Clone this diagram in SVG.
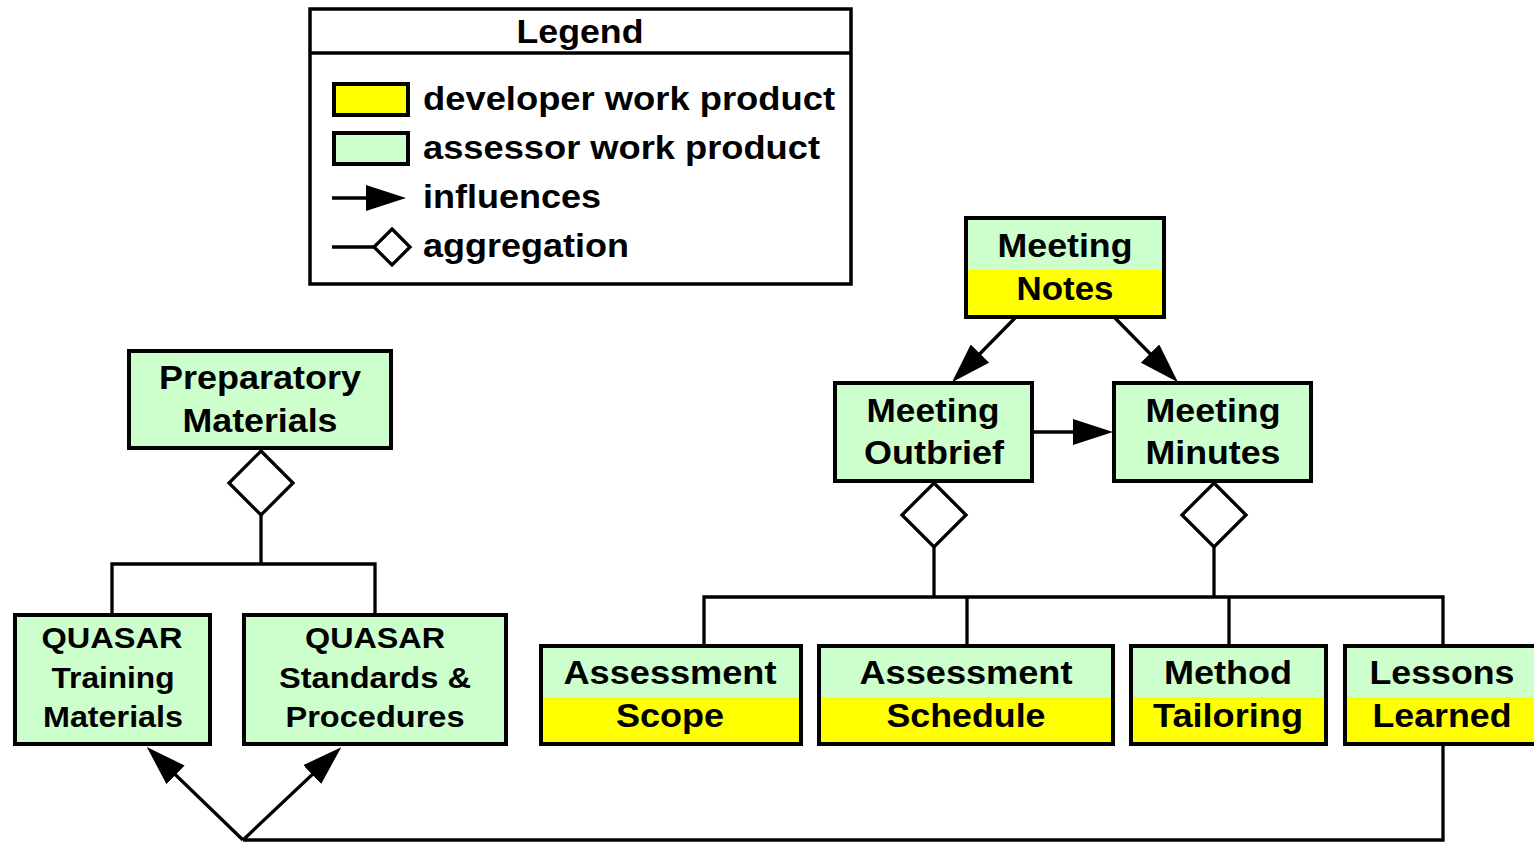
<svg xmlns="http://www.w3.org/2000/svg" width="1534" height="843" viewBox="0 0 1534 843">
<style>
.t{font-family:"Liberation Sans",Arial,Helvetica,sans-serif;font-weight:bold;fill:#000}
.m{font-size:34px;text-anchor:middle}
.q{font-size:30px;text-anchor:middle}
.l{font-size:33px}
.box{stroke:#000;stroke-width:4}
.frame{fill:none;stroke:#000;stroke-width:4}
.g{fill:#CCFFCC}
.y{fill:#FFFF00}
.ln{fill:none;stroke:#000;stroke-width:3.3}
.dia{fill:#fff;stroke:#000;stroke-width:3.3}
</style>
<defs>
<marker id="arr" viewBox="0 0 40 26" refX="30" refY="13" markerWidth="40" markerHeight="26" markerUnits="userSpaceOnUse" orient="auto">
<path d="M0,0 L40,13 L0,26 z" fill="#000"/>
</marker>
<path id="bigdia" d="M0,-32 L32,0 L0,32 L-32,0 z"/>
</defs>

<g id="legend">
<rect x="310" y="9" width="541" height="275" fill="#fff" stroke="#000" stroke-width="3.5"/>
<line x1="310" y1="53" x2="851" y2="53" stroke="#000" stroke-width="3.5"/>
<text class="t m" x="580" y="43" textLength="127" lengthAdjust="spacingAndGlyphs">Legend</text>
<rect class="box y" x="334" y="84" width="74" height="31"/>
<rect class="box g" x="334" y="133" width="74" height="31"/>
<line class="ln" x1="332" y1="198" x2="396" y2="198" marker-end="url(#arr)"/>
<line class="ln" x1="332" y1="247" x2="374" y2="247"/>
<path class="dia" d="M392,229 L410,247 L392,265 L374,247 z"/>
<text class="t l" x="423" y="110" textLength="412" lengthAdjust="spacingAndGlyphs">developer work product</text>
<text class="t l" x="423" y="159" textLength="397" lengthAdjust="spacingAndGlyphs">assessor work product</text>
<text class="t l" x="423" y="208" textLength="178" lengthAdjust="spacingAndGlyphs">influences</text>
<text class="t l" x="423" y="257" textLength="206" lengthAdjust="spacingAndGlyphs">aggregation</text>
</g>

<g id="connectors">
<line class="ln" x1="1015" y1="318" x2="959" y2="375" marker-end="url(#arr)"/>
<line class="ln" x1="1115" y1="318" x2="1171" y2="375" marker-end="url(#arr)"/>
<line class="ln" x1="1032" y1="432" x2="1103" y2="432" marker-end="url(#arr)"/>
<polyline class="ln" points="934,547 934,597"/>
<polyline class="ln" points="1214,547 1214,597"/>
<polyline class="ln" points="704,646 704,597 1443,597 1443,646"/>
<line class="ln" x1="967" y1="597" x2="967" y2="646"/>
<line class="ln" x1="1229" y1="597" x2="1229" y2="646"/>
<polyline class="ln" points="261,515 261,564"/>
<polyline class="ln" points="112,614 112,564 375,564 375,614"/>
<polyline class="ln" points="1443,745 1443,840 243,840"/>
<line class="ln" x1="243" y1="840" x2="154" y2="754" marker-end="url(#arr)"/>
<line class="ln" x1="243" y1="840" x2="334" y2="754" marker-end="url(#arr)"/>
<use href="#bigdia" class="dia" x="934" y="515"/>
<use href="#bigdia" class="dia" x="1214" y="515"/>
<use href="#bigdia" class="dia" x="261" y="483"/>
</g>

<g id="meeting-notes">
<rect class="g" x="966" y="218" width="198" height="52"/>
<rect class="y" x="966" y="270" width="198" height="47"/>
<rect class="frame" x="966" y="218" width="198" height="99"/>
<text class="t m" x="1065" y="257" textLength="135" lengthAdjust="spacingAndGlyphs">Meeting</text>
<text class="t m" x="1065" y="300" textLength="97" lengthAdjust="spacingAndGlyphs">Notes</text>
</g>

<g id="meeting-outbrief">
<rect class="box g" x="835" y="383" width="197" height="98"/>
<text class="t m" x="933" y="422" textLength="133" lengthAdjust="spacingAndGlyphs">Meeting</text>
<text class="t m" x="934" y="464" textLength="140" lengthAdjust="spacingAndGlyphs">Outbrief</text>
</g>

<g id="meeting-minutes">
<rect class="box g" x="1114" y="383" width="197" height="98"/>
<text class="t m" x="1213" y="422" textLength="135" lengthAdjust="spacingAndGlyphs">Meeting</text>
<text class="t m" x="1213" y="464" textLength="135" lengthAdjust="spacingAndGlyphs">Minutes</text>
</g>

<g id="preparatory-materials">
<rect class="box g" x="129" y="351" width="262" height="97"/>
<text class="t m" x="260" y="389" textLength="202" lengthAdjust="spacingAndGlyphs">Preparatory</text>
<text class="t m" x="260" y="432" textLength="155" lengthAdjust="spacingAndGlyphs">Materials</text>
</g>

<g id="quasar-training">
<rect class="box g" x="15" y="615" width="195" height="129"/>
<text class="t q" x="112" y="648" textLength="141" lengthAdjust="spacingAndGlyphs">QUASAR</text>
<text class="t q" x="113" y="688" textLength="123" lengthAdjust="spacingAndGlyphs">Training</text>
<text class="t q" x="113" y="727" textLength="140" lengthAdjust="spacingAndGlyphs">Materials</text>
</g>

<g id="quasar-standards">
<rect class="box g" x="244" y="615" width="262" height="129"/>
<text class="t q" x="375" y="648" textLength="140" lengthAdjust="spacingAndGlyphs">QUASAR</text>
<text class="t q" x="375" y="688" textLength="192" lengthAdjust="spacingAndGlyphs">Standards &amp;</text>
<text class="t q" x="375" y="727" textLength="179" lengthAdjust="spacingAndGlyphs">Procedures</text>
</g>

<g id="assessment-scope">
<rect class="g" x="541" y="646" width="260" height="51"/>
<rect class="y" x="541" y="697" width="260" height="47"/>
<rect class="frame" x="541" y="646" width="260" height="98"/>
<text class="t m" x="670" y="684" textLength="213" lengthAdjust="spacingAndGlyphs">Assessment</text>
<text class="t m" x="670" y="727" textLength="108" lengthAdjust="spacingAndGlyphs">Scope</text>
</g>

<g id="assessment-schedule">
<rect class="g" x="819" y="646" width="294" height="51"/>
<rect class="y" x="819" y="697" width="294" height="47"/>
<rect class="frame" x="819" y="646" width="294" height="98"/>
<text class="t m" x="966" y="684" textLength="213" lengthAdjust="spacingAndGlyphs">Assessment</text>
<text class="t m" x="966" y="727" textLength="159" lengthAdjust="spacingAndGlyphs">Schedule</text>
</g>

<g id="method-tailoring">
<rect class="g" x="1131" y="646" width="195" height="51"/>
<rect class="y" x="1131" y="697" width="195" height="47"/>
<rect class="frame" x="1131" y="646" width="195" height="98"/>
<text class="t m" x="1228" y="684" textLength="128" lengthAdjust="spacingAndGlyphs">Method</text>
<text class="t m" x="1228" y="727" textLength="150" lengthAdjust="spacingAndGlyphs">Tailoring</text>
</g>

<g id="lessons-learned">
<rect class="g" x="1345" y="646" width="200" height="51"/>
<rect class="y" x="1345" y="697" width="200" height="47"/>
<rect class="frame" x="1345" y="646" width="200" height="98"/>
<text class="t m" x="1442" y="684" textLength="145" lengthAdjust="spacingAndGlyphs">Lessons</text>
<text class="t m" x="1442" y="727" textLength="139" lengthAdjust="spacingAndGlyphs">Learned</text>
</g>
</svg>
